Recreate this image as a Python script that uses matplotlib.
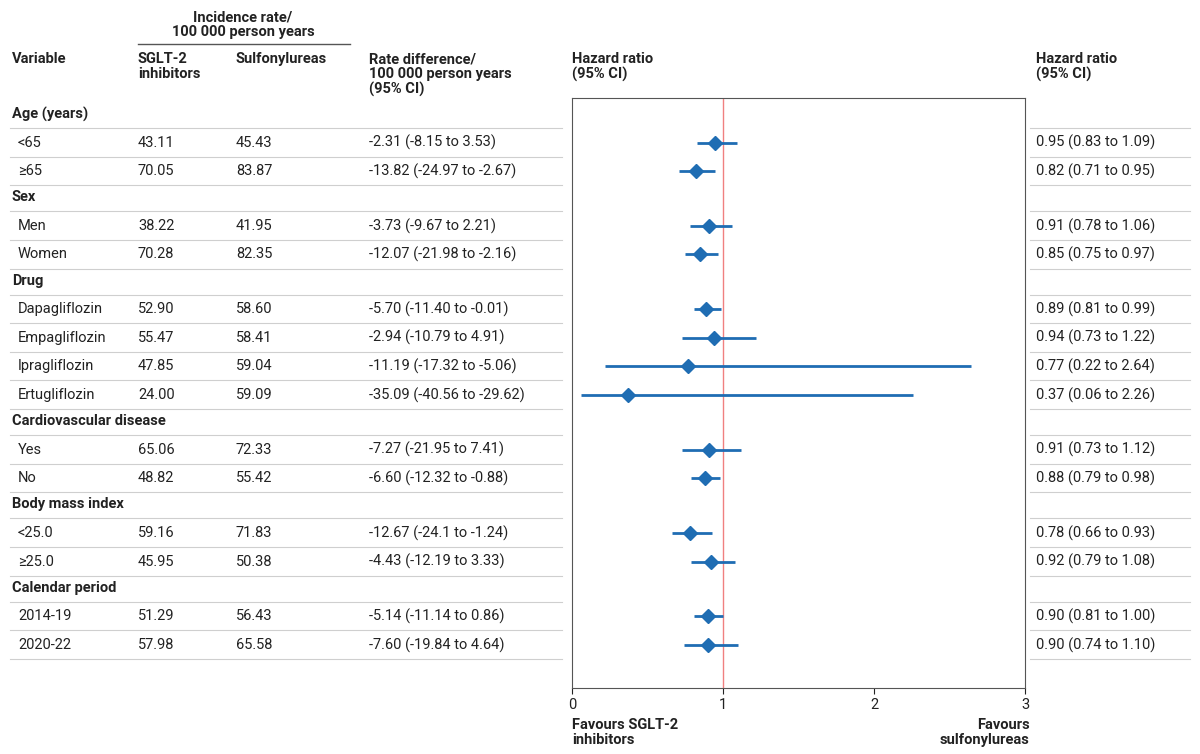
import matplotlib
matplotlib.use("Agg")
import matplotlib.pyplot as plt

groups = ["Age (years)", "Sex", "Drug", "Cardiovascular disease", "Body mass index", "Calendar period"]
subgroups = [
    ["<65", "≥65"],
    ["Men", "Women"],
    ["Dapagliflozin", "Empagliflozin", "Ipragliflozin", "Ertugliflozin"],
    ["Yes", "No"],
    ["<25.0", "≥25.0"],
    ["2014-19", "2020-22"],
]
rate_sglt2 = ["43.11", "70.05", "38.22", "70.28", "52.90", "55.47", "47.85", "24.00",
              "65.06", "48.82", "59.16", "45.95", "51.29", "57.98"]
rate_su = ["45.43", "83.87", "41.95", "82.35", "58.60", "58.41", "59.04", "59.09",
           "72.33", "55.42", "71.83", "50.38", "56.43", "65.58"]
rate_diff = ["-2.31 (-8.15 to 3.53)", "-13.82 (-24.97 to -2.67)", "-3.73 (-9.67 to 2.21)",
             "-12.07 (-21.98 to -2.16)", "-5.70 (-11.40 to -0.01)", "-2.94 (-10.79 to 4.91)",
             "-11.19 (-17.32 to -5.06)", "-35.09 (-40.56 to -29.62)", "-7.27 (-21.95 to 7.41)",
             "-6.60 (-12.32 to -0.88)", "-12.67 (-24.1 to -1.24)", "-4.43 (-12.19 to 3.33)",
             "-5.14 (-11.14 to 0.86)", "-7.60 (-19.84 to 4.64)"]
hr = [0.95, 0.82, 0.91, 0.85, 0.89, 0.94, 0.77, 0.37, 0.91, 0.88, 0.78, 0.92, 0.90, 0.90]
lo = [0.83, 0.71, 0.78, 0.75, 0.81, 0.73, 0.22, 0.06, 0.73, 0.79, 0.66, 0.79, 0.81, 0.74]
hi = [1.09, 0.95, 1.06, 0.97, 0.99, 1.22, 2.64, 2.26, 1.12, 0.98, 0.93, 1.08, 1.00, 1.10]

W, H = 1200, 754
BLUE = "#1f6db3"
GRID = "#cfcfcf"
TXT = "#222222"
plt.rcParams["font.family"] = ["Roboto", "DejaVu Sans"]

fig = plt.figure(figsize=(12, 7.54), dpi=100)
bg = fig.add_axes([0, 0, 1, 1])
bg.set_xlim(0, W)
bg.set_ylim(H, 0)
bg.axis("off")

fs = 10.5
# header
bg.text(243, 10, "Incidence rate/\n100 000 person years", ha="center", va="top", fontsize=fs,
        fontweight="bold", color=TXT, linespacing=1.1)
bg.plot([138, 350], [44, 44], color="#555555", lw=1)
bg.text(12, 52, "Variable", va="top", fontsize=fs, fontweight="bold", color=TXT)
bg.text(138, 52, "SGLT-2\ninhibitors", va="top", fontsize=fs, fontweight="bold", color=TXT, linespacing=1.1)
bg.text(236, 52, "Sulfonylureas", va="top", fontsize=fs, fontweight="bold", color=TXT)
bg.text(369, 52, "Rate difference/\n100 000 person years\n(95% CI)", va="top", fontsize=fs,
        fontweight="bold", color=TXT, linespacing=1.1)
bg.text(572, 52, "Hazard ratio\n(95% CI)", va="top", fontsize=fs, fontweight="bold", color=TXT, linespacing=1.1)
bg.text(1036, 52, "Hazard ratio\n(95% CI)", va="top", fontsize=fs, fontweight="bold", color=TXT, linespacing=1.1)

row_h = 28.6
y = 114
ys = []
for g, subs in zip(groups, subgroups):
    bg.text(12, y, g, va="center", fontsize=fs, fontweight="bold", color=TXT)
    for xa, xb in [(10, 562), (1030, 1190)]:
        bg.plot([xa, xb], [y + 14, y + 14], color=GRID, lw=0.8)
    y += row_h
    for s in subs:
        ys.append(y)
        y += row_h
    y -= 2.5

for i, yy in enumerate(ys):
    label = [s for subs in subgroups for s in subs][i]
    bg.text(18, yy, label, va="center", fontsize=fs, color=TXT)
    bg.text(138, yy, rate_sglt2[i], va="center", fontsize=fs, color=TXT)
    bg.text(236, yy, rate_su[i], va="center", fontsize=fs, color=TXT)
    bg.text(369, yy, rate_diff[i], va="center", fontsize=fs, color=TXT)
    bg.text(1036, yy, f"{hr[i]:.2f} ({lo[i]:.2f} to {hi[i]:.2f})", va="center", fontsize=fs, color=TXT)
    for xa, xb in [(10, 562), (1030, 1190)]:
        bg.plot([xa, xb], [yy + 14, yy + 14], color=GRID, lw=0.8)

# forest panel
x0, x1, yt, yb = 572, 1025, 98, 688
ax = fig.add_axes([x0 / W, 1 - yb / H, (x1 - x0) / W, (yb - yt) / H])
ax.set_xlim(0, 3)
ax.set_ylim(yb, yt)
ax.axvline(1, color="#f08080", lw=1)
ax.hlines(ys, lo, hi, color=BLUE, lw=2)
ax.plot(hr, ys, "D", color=BLUE, ms=7, ls="none")
ax.set_yticks([])
ax.set_xticks([0, 1, 2, 3])
ax.tick_params(axis="x", labelsize=fs, colors=TXT, length=4)
for sp in ax.spines.values():
    sp.set_color("#555555")
    sp.set_linewidth(0.8)

bg.text(572, 718, "Favours SGLT-2\ninhibitors", va="top", fontsize=fs, fontweight="bold", color=TXT, linespacing=1.1)
bg.text(1030, 718, "Favours\nsulfonylureas", va="top", ha="right", fontsize=fs, fontweight="bold",
        color=TXT, linespacing=1.1)

fig.savefig("out.png", dpi=100)
